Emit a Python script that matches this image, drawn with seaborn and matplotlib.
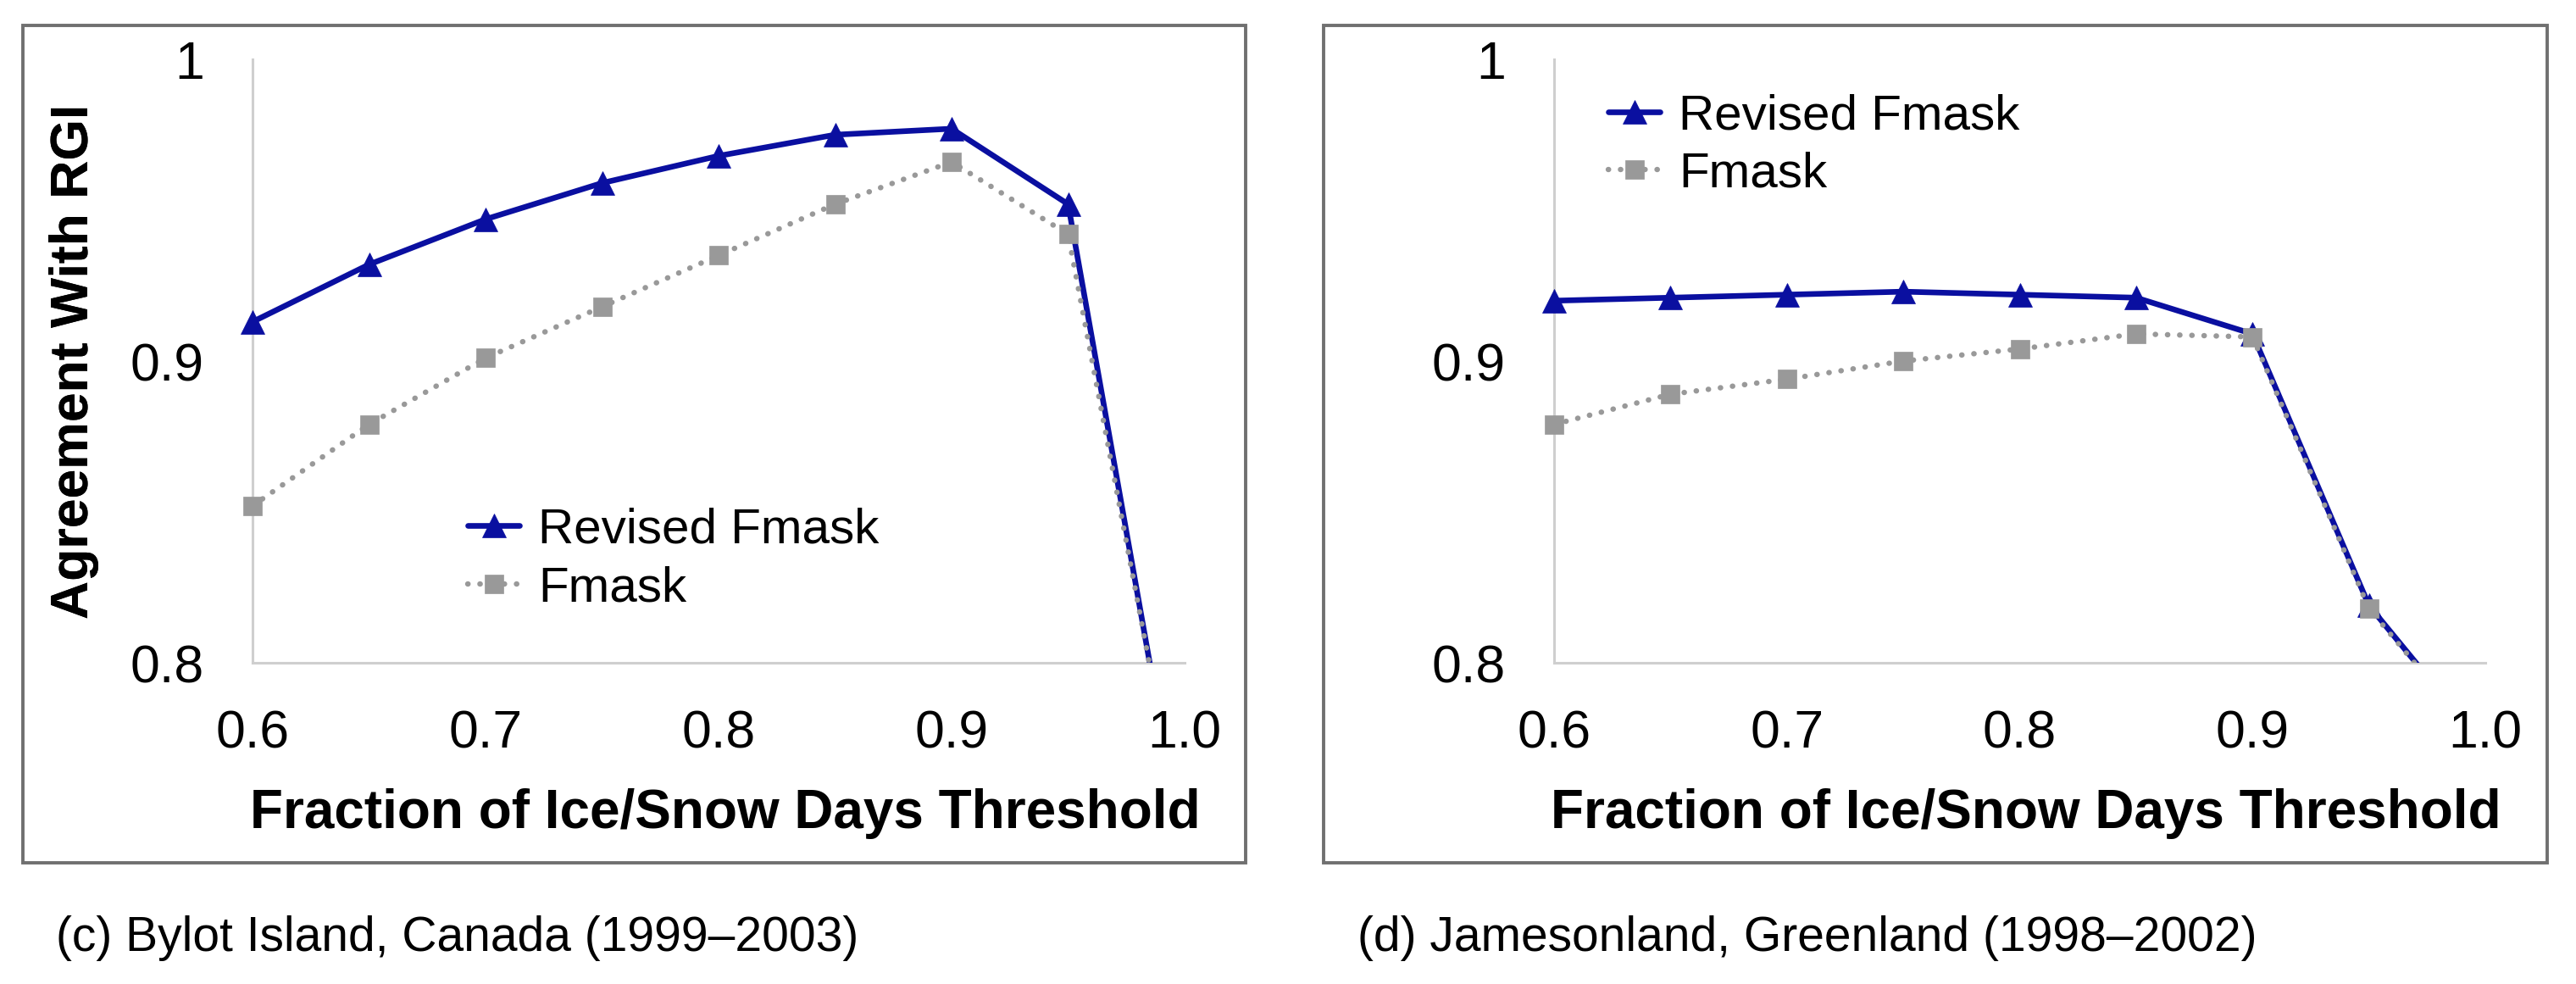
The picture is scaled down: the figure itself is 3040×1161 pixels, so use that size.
import matplotlib
matplotlib.use("Agg")
import matplotlib.pyplot as plt
from matplotlib.patches import Rectangle
from matplotlib.transforms import Bbox, TransformedBbox
import seaborn as sns
import numpy as np

# ---- data ----
thresholds = [0.60, 0.65, 0.70, 0.75, 0.80, 0.85, 0.90, 0.95, 1.00]

bylot_revised = [0.913, 0.932, 0.947, 0.959, 0.968, 0.975, 0.977, 0.952, 0.735]
bylot_fmask = [0.852, 0.879, 0.901, 0.918, 0.935, 0.952, 0.966, 0.942, 0.738]

james_revised = [0.920, 0.921, 0.922, 0.923, 0.922, 0.921, 0.909, 0.819, 0.772]
james_fmask = [0.879, 0.889, 0.894, 0.900, 0.904, 0.909, 0.908, 0.818, 0.772]

series_names = ["Revised Fmask", "Fmask"]
x_ticks = [0.6, 0.7, 0.8, 0.9, 1.0]
x_tick_labels = ["0.6", "0.7", "0.8", "0.9", "1.0"]
y_ticks = [0.8, 0.9, 1.0]
y_tick_labels = ["0.8", "0.9", "1"]
x_label = "Fraction of Ice/Snow Days Threshold"
y_label = "Agreement With RGI"
captions = ["(c) Bylot Island, Canada (1999\u20132003)",
            "(d) Jamesonland, Greenland (1998\u20132002)"]

# ---- style ----
sns.set_style("white", {"text.color": "black", "axes.labelcolor": "black",
                        "xtick.color": "black", "ytick.color": "black"})
plt.rcParams["font.family"] = ["Liberation Sans", "DejaVu Sans"]
plt.rcParams["text.color"] = "black"
plt.rcParams["axes.labelcolor"] = "black"
plt.rcParams["legend.labelcolor"] = "black"

BLUE = "#0a0fa0"
GRAY = "#999999"
SPINE = "#cfcfcf"
W, H = 3040, 1161
fig = plt.figure(figsize=(W / 100, H / 100), dpi=100)

def fx(px):
    return px / W

def fy(py):
    return 1 - py / H

panels = [
    dict(ax_left=298, ax_right=1398, box=(27, 30, 1470, 1018),
         rev=bylot_revised, fm=bylot_fmask, leg=(552, 660), cap_x=66),
    dict(ax_left=1834, ax_right=2933, box=(1562, 30, 3006, 1018),
         rev=james_revised, fm=james_fmask, leg=(1898, 171.5), cap_x=1602),
]
ax_top, ax_bot = 70, 782

for i, p in enumerate(panels):
    # panel frame
    x0, y0, x1, y1 = p["box"]
    fig.add_artist(Rectangle((fx(x0), fy(y1)), fx(x1 - x0), (y1 - y0) / H,
                             transform=fig.transFigure, fill=False,
                             edgecolor="#707070", linewidth=2.8))
    ax = fig.add_axes([fx(p["ax_left"]), fy(ax_bot),
                       fx(p["ax_right"] - p["ax_left"]), (ax_bot - ax_top) / H])
    ax.set_facecolor("none")

    sns.lineplot(x=thresholds, y=p["rev"], ax=ax, color=BLUE, linewidth=4.8,
                 marker="^", markersize=20, markeredgecolor=BLUE,
                 markeredgewidth=0.5, label=series_names[0], zorder=3,
                 legend=False)
    l_rev = ax.lines[-1]
    sns.lineplot(x=thresholds, y=p["fm"], ax=ax, color=GRAY, linewidth=4.6,
                 linestyle=(0, (0.05, 2.2)), dash_capstyle="round",
                 marker="s", markersize=16, markeredgecolor=GRAY,
                 markeredgewidth=0.5, label=series_names[1], zorder=4,
                 legend=False)
    l_fm = ax.lines[-1]

    ax.set_xlim(0.6, 1.0)
    ax.set_ylim(0.8, 1.0)
    clip = TransformedBbox(Bbox([[0.55, 0.8], [1.05, 1.03]]), ax.transData)
    for ln in (l_rev, l_fm):
        ln.set_clip_path(None)
        ln.set_clip_box(clip)

    ax.set_xticks(x_ticks)
    ax.set_xticklabels(x_tick_labels)
    ax.set_yticks(y_ticks)
    ax.set_yticklabels(y_tick_labels)
    ax.tick_params(axis="both", which="major", direction="out", length=13,
                   width=2.2, color=SPINE, labelsize=45, labelcolor="black")
    ax.tick_params(axis="x", pad=26)
    ax.tick_params(axis="y", pad=28)
    for s in ("top", "right"):
        ax.spines[s].set_visible(False)
    for s in ("left", "bottom"):
        ax.spines[s].set_color(SPINE)
        ax.spines[s].set_linewidth(2.2)
    ax.grid(False)

    ax.set_xlabel(x_label, fontsize=46, fontweight="bold", va="center",
                  color="black")
    ax.xaxis.set_label_coords(0.507, (ax_bot - 960) / (ax_bot - ax_top))
    ax.set_ylabel(y_label, fontsize=45, fontweight="bold", va="center",
                  color="black")
    ax.yaxis.set_label_coords((88 - p["ax_left"]) / (p["ax_right"] - p["ax_left"]), 0.5)

    lx, ly = p["leg"]
    leg = ax.legend(handles=[l_rev, l_fm], labels=series_names, frameon=False,
                    loc="center left",
                    bbox_to_anchor=((lx - p["ax_left"]) / (p["ax_right"] - p["ax_left"]),
                                    (ax_bot - ly) / (ax_bot - ax_top)),
                    borderaxespad=0, borderpad=0, fontsize=42, handlelength=1.05,
                    handletextpad=0.38, labelspacing=0.25, numpoints=1)
    for t in leg.get_texts():
        t.set_color("black")

    fig.text(fx(p["cap_x"]), fy(1107), captions[i], fontsize=41,
             ha="left", va="center", color="black")

fig.savefig("out.png", dpi=100, facecolor="white")
